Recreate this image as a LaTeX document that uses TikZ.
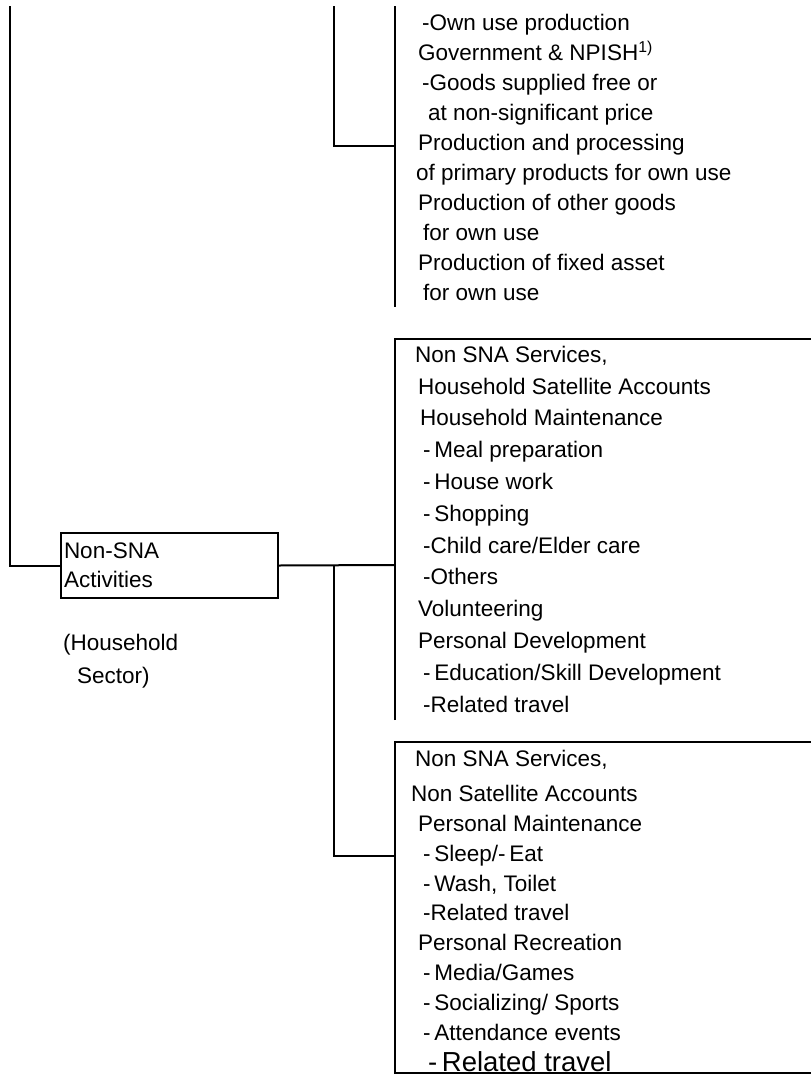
\documentclass[tikz,border=0pt]{standalone}
\usepackage{fontspec}
\setmainfont{Liberation Sans}
\usepackage{tikz}

\begin{document}
\begin{tikzpicture}[x=1pt,y=-1pt,
txt/.style={font=\fontsize{22.5}{30}\selectfont, align=left, anchor=base west, inner sep=0pt},
actbox/.style={draw, line width=2pt, anchor=north west, text width=211pt, align=left,
  inner xsep=3pt, inner ysep=0pt, minimum height=65pt, font=\fontsize{22.5}{29}\selectfont},
wire/.style={line width=2pt} ]

\useasboundingbox (0,0) rectangle (811,1076);
\clip (0,0) rectangle (811,1076);

% named ends of the lines
\coordinate (topL) at (10,6);
\coordinate (upFork) at (334,6);
\coordinate (upIn) at (395,146);
\coordinate (upTop) at (395,6);
\coordinate (upEnd) at (395,307);
\coordinate (midIn) at (395,565);
\coordinate (fork) at (334,565);
\coordinate (botIn) at (395,856);

\node[actbox](act) at (60,532) {Non-SNA\\Activities};

% text blocks sit on the baseline of their last line
\node[txt, font=\fontsize{22.5}{33}\selectfont](sector) at (63,683) {(Household\\\hspace{14pt}Sector)};

% top group
\node[txt](own) at (418,300) {\hspace{4pt}-Own use production\\
Government \& NPISH\textsuperscript{1)}\\
\hspace{4pt}-Goods supplied free or\\
\hspace{10pt}at non-significant price\\
Production and processing\\
\hspace{-2pt}of primary products for own use\\
Production of other goods\\
\hspace{5pt}for own use\\
Production of fixed asset\\
\hspace{5pt}for own use};

% satellite accounts
\node[txt, font=\fontsize{22.5}{31.8}\selectfont](sat) at (415,712) {Non SNA Services,\\
\hspace{3pt}Household Satellite Accounts\\
\hspace{5pt}Household Maintenance\\
\hspace{8pt}-\,Meal preparation\\
\hspace{8pt}-\,House work\\
\hspace{8pt}-\,Shopping\\
\hspace{8pt}-Child care/Elder care\\
\hspace{8pt}-Others\\
\hspace{3pt}Volunteering\\
\hspace{3pt}Personal Development\\
\hspace{8pt}-\,Education/Skill Development\\
\hspace{8pt}-Related travel};

% non satellite accounts
\node[txt, font=\fontsize{22.5}{29.8}\selectfont](nonsat) at (415,1040) {Non SNA Services,\\[5pt]
\hspace{-4pt}Non Satellite Accounts\\
\hspace{3pt}Personal Maintenance\\
\hspace{8pt}-\,Sleep/-\,Eat\\
\hspace{8pt}-\,Wash, Toilet\\
\hspace{8pt}-Related travel\\
\hspace{3pt}Personal Recreation\\
\hspace{8pt}-\,Media/Games\\
\hspace{8pt}-\,Socializing/ Sports\\
\hspace{8pt}-\,Attendance events};

\node[txt, font=\fontsize{27.5}{30}\selectfont](travel) at (428,1071) {-\,Related travel};

% boxes
\draw[wire] (395,720) |- (815,339);
\draw[wire] (395,742) rectangle (815,1073);

% connectors
\draw[wire] (topL) |- (act.west);
\draw[wire] (act.east) -- (midIn);
\draw[wire] (fork) |- (botIn);
\draw[wire] (upFork) |- (upIn);
\draw[wire] (upTop) -- (upEnd);

\end{tikzpicture}
\end{document}
